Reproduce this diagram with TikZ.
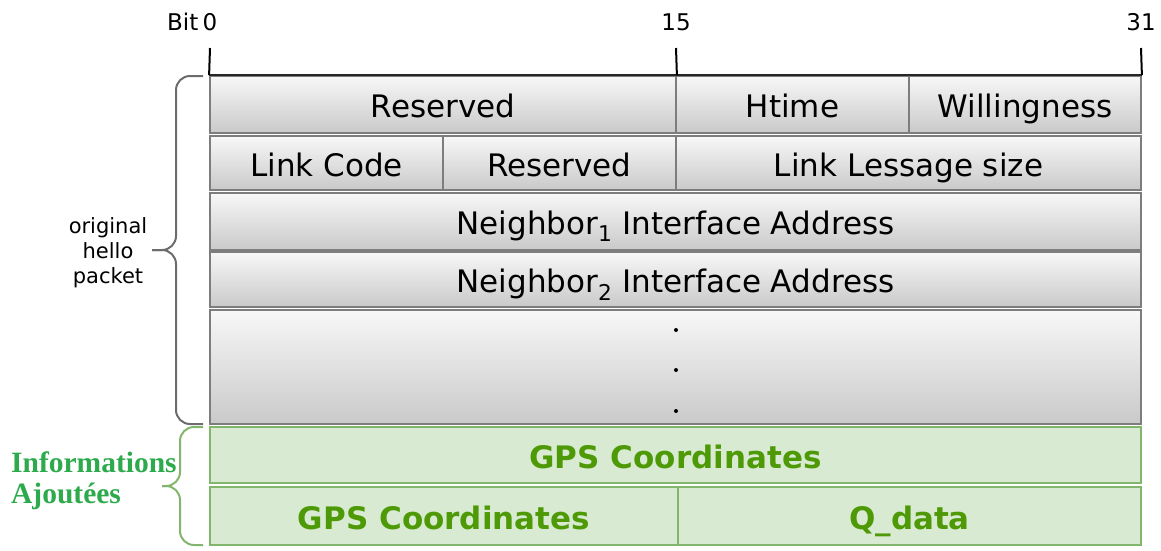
\documentclass[tikz,border=0pt]{standalone}
\usepackage{fontspec}
\setmainfont{DejaVu Sans}
\newfontfamily\addedfont{Liberation Serif}
\usepackage{xcolor}
\usepackage{tikz}
\usetikzlibrary{positioning}
\definecolor{cellgray}{RGB}{125,125,125}
\definecolor{mintleaf}{RGB}{217,234,211}
\definecolor{fern}{RGB}{130,182,108}
\definecolor{olivegreen}{RGB}{78,154,6}
\definecolor{emerald}{RGB}{45,170,75}
\tikzset{%
  cella/.style={rectangle,top color=gray!6,bottom color=gray!42,draw=cellgray,line width=1.8pt,inner sep=0pt,text height=26pt,text depth=0pt,font=\fontsize{31}{35}\selectfont}
}
\tikzset{%
  cellb/.style={rectangle,fill=mintleaf,draw=fern,line width=1.8pt,inner sep=0pt,text height=26pt,text depth=0pt,text=olivegreen,font=\fontsize{31}{35}\selectfont\bfseries}
}
\tikzset{%
  bitlabel/.style={inner sep=0pt,font=\fontsize{23}{27}\selectfont}
}
\newcommand\bracecola{gray!85!black}
\newcommand\bracecolb{fern}

\begin{document}
\begin{tikzpicture}[x=1pt,y=-1pt,node distance=4pt]
  \useasboundingbox (0,0) rectangle (1161,550);
  % bit positions
  \node[bitlabel](bitzero) at (210,22){0};
  \node[bitlabel,left=of bitzero](bitword){Bit};
  \node[bitlabel](bitfifteen) at (676,22){15};
  \node[bitlabel](bitthirtyone) at (1141,22){31};
  \coordinate (tickzero) at (210,48);
  \coordinate (tickfifteen) at (676,48);
  \coordinate (tickthirtyone) at (1141,48);

  % original hello packet
  \node[cella,minimum width=466pt,minimum height=57pt](reserveda) at (443,104.5){Reserved};
  \node[cella,minimum width=233pt,minimum height=57pt](htime) at (792.5,104.5){Htime};
  \node[cella,minimum width=232pt,minimum height=57pt](willing) at (1025,104.5){Willingness};
  \node[cella,minimum width=233pt,minimum height=54pt](linkcode) at (326.5,163){Link Code};
  \node[cella,minimum width=233pt,minimum height=54pt](reservedb) at (559.5,163){Reserved};
  \node[cella,minimum width=465pt,minimum height=54pt](linksize) at (908.5,163){Link Lessage size};
  \node[cella,minimum width=931pt,minimum height=57pt](neighone) at (675.5,221.5){Neighbor\textsubscript{1} Interface Address};
  \node[cella,minimum width=931pt,minimum height=55pt](neightwo) at (675.5,279.5){Neighbor\textsubscript{2} Interface Address};
  \node[cella,minimum width=931pt,minimum height=114pt](more) at (675.5,367){};
  \foreach \y in {330,370,411}
    \fill (676,\y) circle (2pt);

  % added fields
  \node[cellb,minimum width=931pt,minimum height=56pt](gpsa) at (675.5,455){GPS Coordinates};
  \node[cellb,minimum width=468pt,minimum height=58pt](gpsb) at (444,516){GPS Coordinates};
  \node[cellb,minimum width=463pt,minimum height=58pt](qdata) at (909.5,516){Q\_data};

  \draw[line width=2pt,gray!30!black] (reserveda.north west) -- (willing.north east);
  \draw[line width=2pt] (tickzero) -- (reserveda.north west);
  \draw[line width=2pt] (tickfifteen) -- (reserveda.north east);
  \draw[line width=2pt] (tickthirtyone) -- (willing.north east);

  % braces
  \draw[line width=2pt,\bracecola,rounded corners=14pt] (203,76) -| (176,250) -- (152,250);
  \draw[line width=2pt,\bracecola,rounded corners=14pt] (152,250) -- (176,250) |- (203,424);
  \node[bitlabel,align=center,font=\fontsize{21}{25}\selectfont](origlabel) at (108,253){original\\hello\\packet};
  \draw[line width=2pt,\bracecolb,rounded corners=14pt] (203,427) -| (180,486) -- (162,486);
  \draw[line width=2pt,\bracecolb,rounded corners=14pt] (162,486) -- (180,486) |- (203,545);
  \node[inner sep=0pt,anchor=west,align=left,text=emerald,font=\addedfont\fontsize{29.5}{31}\selectfont\bfseries](addlabel) at (11,481){Informations\\Ajoutées};
\end{tikzpicture}
\end{document}
